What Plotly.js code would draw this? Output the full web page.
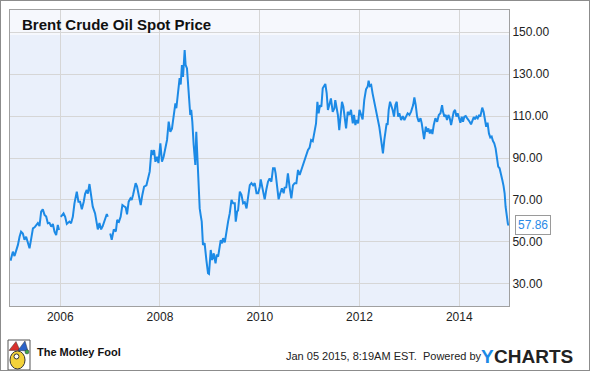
<!DOCTYPE html>
<html>
<head>
<meta charset="utf-8">
<script src="https://cdn.plot.ly/plotly-3.0.1.min.js"></script>
<style>
  html, body { margin: 0; padding: 0; background: #fff; }
  #wrap { position: relative; width: 590px; height: 371px; }
  #chart { width: 590px; height: 371px; }
  #frame { position: absolute; left: 0; top: 0; width: 590px; height: 371px; box-sizing: border-box; border: 1px solid #8c8c8c; pointer-events: none; }
</style>
</head>
<body>
<div id="wrap"><div id="chart"></div><div id="frame"></div></div>
<script>
const chartTitle = 'Brent Crude Oil Spot Price';
const dates = [
'2005-01-02','2005-01-19','2005-01-31','2005-02-13','2005-02-25','2005-03-09','2005-03-20','2005-04-02','2005-04-14','2005-04-26',
'2005-05-09','2005-05-21','2005-06-03','2005-06-15','2005-06-27','2005-07-09','2005-07-21','2005-08-02','2005-08-14','2005-08-26',
'2005-09-08','2005-09-20','2005-10-02','2005-10-14','2005-10-27','2005-11-08','2005-11-20','2005-12-02','2005-12-14','2005-12-23',
'2005-12-29',
'2006-01-05','2006-01-25','2006-02-06','2006-02-18','2006-03-09','2006-03-21','2006-04-03','2006-04-15','2006-05-02','2006-05-14',
'2006-05-26','2006-06-08','2006-06-22','2006-07-02','2006-07-14','2006-07-22','2006-08-03','2006-08-15','2006-08-27','2006-09-13',
'2006-09-21','2006-10-03','2006-10-15','2006-10-27','2006-11-08','2006-11-21','2006-12-08','2006-12-15',
'2006-12-27',
'2007-01-02','2007-01-13','2007-01-28','2007-02-12','2007-02-22','2007-03-07','2007-03-19','2007-04-01','2007-04-13','2007-04-25',
'2007-05-05','2007-05-17','2007-05-30','2007-06-08','2007-06-18','2007-06-30','2007-07-07','2007-07-17','2007-08-01','2007-08-13',
'2007-08-25','2007-09-07','2007-09-24','2007-10-06','2007-10-18','2007-10-31','2007-11-12','2007-11-19','2007-11-29','2007-12-11',
'2007-12-21',
'2008-01-04','2008-01-16','2008-01-28','2008-02-10','2008-02-22','2008-03-05','2008-03-17','2008-03-29','2008-04-10','2008-04-23',
'2008-04-30','2008-05-12','2008-05-24','2008-06-01','2008-06-10','2008-06-18','2008-06-30','2008-07-07','2008-07-17','2008-07-29',
'2008-08-10','2008-08-17','2008-08-25','2008-09-04','2008-09-16','2008-09-23','2008-09-30','2008-10-06','2008-10-18','2008-10-25',
'2008-11-02','2008-11-11','2008-11-23','2008-12-06','2008-12-18','2008-12-25',
'2009-01-07','2009-01-17','2009-01-29','2009-02-11','2009-02-20','2009-03-02','2009-03-14','2009-03-21','2009-03-31','2009-04-08',
'2009-04-20','2009-05-02','2009-05-14','2009-05-26','2009-06-08','2009-06-20','2009-07-02','2009-07-09','2009-07-19','2009-07-26',
'2009-08-08','2009-08-20','2009-09-01','2009-09-13','2009-09-26','2009-10-08','2009-10-20','2009-11-01','2009-11-13','2009-11-25',
'2009-12-08','2009-12-20',
'2010-01-01','2010-01-08','2010-01-17','2010-01-25','2010-02-06','2010-02-18','2010-03-02','2010-03-14','2010-03-27','2010-04-08',
'2010-04-20','2010-04-27','2010-05-10','2010-05-19','2010-05-31','2010-06-12','2010-06-25','2010-07-02','2010-07-14','2010-07-26',
'2010-08-08','2010-08-20','2010-09-01','2010-09-13','2010-09-26','2010-10-08','2010-10-20','2010-11-01','2010-11-13','2010-11-25',
'2010-12-08','2010-12-20',
'2011-01-01','2011-01-12','2011-01-24','2011-02-05','2011-02-17','2011-02-27','2011-03-08','2011-03-18','2011-03-28','2011-04-07',
'2011-04-19','2011-04-26','2011-05-06','2011-05-15','2011-05-25','2011-06-06','2011-06-19','2011-07-01','2011-07-08','2011-07-18',
'2011-07-27','2011-08-06','2011-08-16','2011-08-26','2011-09-05','2011-09-15','2011-09-25','2011-10-07','2011-10-19','2011-10-31',
'2011-11-13','2011-11-22','2011-12-02','2011-12-12','2011-12-22',
'2012-01-01','2012-01-12','2012-01-24','2012-02-05','2012-02-18','2012-03-01','2012-03-08','2012-03-17','2012-03-27','2012-04-06',
'2012-04-18','2012-04-30','2012-05-13','2012-05-25','2012-06-06','2012-06-13','2012-06-21','2012-07-01','2012-07-08','2012-07-18',
'2012-07-25','2012-08-02','2012-08-12','2012-08-21','2012-08-31','2012-09-10','2012-09-20','2012-09-30','2012-10-10','2012-10-19',
'2012-11-01','2012-11-13','2012-11-25','2012-12-07','2012-12-19',
'2013-01-01','2013-01-13','2013-01-28','2013-02-06','2013-02-16','2013-02-26','2013-03-10','2013-03-23','2013-04-01','2013-04-11',
'2013-04-18','2013-05-01','2013-05-10','2013-05-20','2013-05-30','2013-06-09','2013-06-18','2013-06-28','2013-07-10','2013-07-23',
'2013-08-04','2013-08-16','2013-08-28','2013-09-04','2013-09-14','2013-09-24','2013-10-03','2013-10-13','2013-10-23','2013-11-02',
'2013-11-11','2013-11-21','2013-12-01','2013-12-11','2013-12-20','2013-12-30',
'2014-01-09','2014-01-19','2014-01-28','2014-02-07','2014-02-17','2014-02-27','2014-03-08','2014-03-18','2014-03-28','2014-04-07',
'2014-04-17','2014-04-26','2014-05-06','2014-05-16','2014-05-26','2014-06-04','2014-06-11','2014-06-18','2014-06-28','2014-07-08',
'2014-07-17','2014-07-27','2014-08-06','2014-08-16','2014-08-26','2014-09-04','2014-09-14','2014-09-24','2014-10-03','2014-10-13',
'2014-10-23','2014-11-02','2014-11-12','2014-11-21','2014-11-29','2014-12-06','2014-12-16','2014-12-23','2014-12-29'
];
const prices = [
41.1,45.4,43.3,46.0,48.6,52.5,54.9,54.0,51.0,52.5,
50.1,47.0,51.8,56.5,57.0,58.0,59.0,57.6,64.4,65.5,
62.9,62.1,58.9,59.1,57.3,58.6,54.9,53.3,58.1,55.7,
null,
62.0,63.6,62.0,58.6,59.7,58.9,62.0,68.4,74.0,69.2,
69.2,65.6,69.2,72.9,74.8,73.0,77.6,71.6,66.8,63.6,
60.5,56.0,59.0,56.0,57.6,60.5,63.3,62.0,
null,
54.0,51.0,56.0,55.0,60.5,59.7,62.0,67.6,67.0,66.5,
63.2,69.2,70.8,70.0,72.4,75.6,78.0,76.5,71.6,67.6,
72.4,76.4,77.0,80.3,83.5,93.8,91.4,93.8,88.2,90.6,
87.6,
97.0,88.2,90.6,95.4,98.6,107.3,102.5,104.0,110.5,116.0,
113.7,121.6,128.0,125.0,134.3,128.6,141.4,134.3,132.7,121.6,
110.5,113.0,107.3,96.2,86.7,102.5,90.5,78.7,66.0,62.9,
59.7,48.6,49.4,41.4,35.1,34.8,
46.2,41.4,44.6,39.8,44.0,43.0,47.6,50.9,49.4,51.8,
49.8,55.7,59.7,63.6,70.0,68.4,68.4,59.7,64.4,65.0,
74.0,72.5,68.4,69.0,66.0,71.6,77.1,78.0,77.0,78.0,
73.2,73.2,
76.2,79.8,77.0,74.0,70.3,75.0,78.7,80.3,78.7,85.1,
85.1,82.7,74.8,70.3,73.2,75.6,73.2,75.9,76.0,82.7,
75.9,70.8,77.0,78.0,78.0,84.3,81.9,84.3,87.5,89.2,
92.5,93.8,
95.0,98.6,98.0,101.8,106.5,116.8,111.3,115.2,114.4,123.2,
124.8,125.3,120.8,112.9,115.2,118.4,112.0,113.6,117.6,113.6,
110.5,103.3,112.0,116.8,114.4,109.7,104.1,112.0,110.5,112.9,
106.5,110.5,105.7,108.1,106.5,
112.9,110.5,108.4,117.6,122.7,124.0,126.8,124.3,124.8,120.8,
116.8,112.9,109.7,104.9,99.4,96.2,92.2,98.6,102.5,106.5,
105.7,112.9,116.8,115.2,112.9,109.7,115.2,116.8,109.7,111.3,
108.1,110.0,108.1,109.7,111.3,
110.5,112.1,115.2,118.9,115.2,109.7,107.3,109.0,106.5,101.0,
99.0,104.9,102.5,104.1,101.7,103.6,101.4,105.7,108.9,107.3,
110.5,111.3,115.2,112.0,109.7,110.5,108.1,110.5,109.0,105.7,
109.0,112.0,112.9,109.7,111.3,108.4,
106.8,109.7,107.3,109.7,110.0,109.0,108.4,107.3,106.0,108.4,
109.5,108.4,109.7,108.9,110.5,109.7,111.3,114.0,112.0,108.4,
104.9,106.8,101.7,99.8,100.2,98.2,97.0,94.6,90.6,85.9,
85.1,82.7,79.5,76.7,73.2,66.8,60.5,58.6,57.86
];
const lastValue = 57.86;
const footerLeft = 'The Motley Fool';
const footerStamp = 'Jan 05 2015, 8:19AM EST.  Powered by';

const fontFam = '"Liberation Sans", Arial, Helvetica, sans-serif';

const trace = {
  x: dates, y: prices, type: 'scatter', mode: 'lines',
  line: {color: '#1c8ae6', width: 2}, connectgaps: false, hoverinfo: 'skip'
};

const layout = {
  width: 590, height: 371,
  margin: {l: 10, r: 81, t: 10, b: 65, pad: 0},
  paper_bgcolor: '#ffffff', plot_bgcolor: '#eaf0fb',
  showlegend: false,
  font: {family: fontFam, size: 12, color: '#222'},
  xaxis: {
    type: 'date', range: ['2004-12-29', '2014-12-31'],
    tick0: '2006-01-01', dtick: 'M24', tickformat: '%Y',
    showgrid: true, gridcolor: '#d6d6d6', gridwidth: 1,
    showline: true, linecolor: '#a0a0a0', linewidth: 1, mirror: true,
    ticks: '', zeroline: false, tickfont: {size: 12, color: '#222'}
  },
  yaxis: {
    side: 'right', range: [19.5, 160.5], tick0: 30, dtick: 20, tickformat: '.2f',
    showgrid: true, gridcolor: '#d6d6d6', gridwidth: 1,
    showline: true, linecolor: '#a0a0a0', linewidth: 1, mirror: true,
    ticks: '', zeroline: false, tickfont: {size: 12, color: '#222'}
  },
  shapes: [
    {type: 'rect', xref: 'paper', yref: 'paper', x0: 0, x1: 1, y0: 0.9155, y1: 1,
     fillcolor: 'rgba(255,255,255,0.55)', line: {width: 0}, layer: 'between'},
    // Motley Fool jester icon (approximate)
    {type: 'rect', xref: 'paper', yref: 'paper', x0: -0.0040, x1: 0.0401, y0: -0.2162, y1: -0.1149,
     fillcolor: '#ffffff', line: {color: '#555', width: 1}},
    {type: 'circle', xref: 'paper', yref: 'paper', x0: 0.0000, x1: 0.0301, y0: -0.2128, y1: -0.1520,
     fillcolor: '#f3d23a', line: {color: '#333', width: 1}},
    {type: 'path', xref: 'paper', yref: 'paper', path: 'M -0.002 -0.150 L 0.012 -0.120 L 0.020 -0.150 Z',
     fillcolor: '#d9302c', line: {color: '#333', width: 0.5}},
    {type: 'path', xref: 'paper', yref: 'paper', path: 'M 0.016 -0.150 L 0.030 -0.118 L 0.036 -0.152 Z',
     fillcolor: '#2a62c9', line: {color: '#333', width: 0.5}},
    {type: 'circle', xref: 'paper', yref: 'paper', x0: 0.0080, x1: 0.0180, y0: -0.1790, y1: -0.1620,
     fillcolor: '#ffffff', line: {color: '#333', width: 1}},
    {type: 'circle', xref: 'paper', yref: 'paper', x0: 0.0300, x1: 0.0380, y0: -0.1620, y1: -0.1480,
     fillcolor: '#3aa845', line: {color: '#333', width: 0.5}}
  ],
  annotations: [
    {text: '<b>' + chartTitle + '</b>', xref: 'paper', yref: 'paper', x: 0.021, y: 0.9527,
     xanchor: 'left', yanchor: 'middle', showarrow: false, font: {size: 15, color: '#111', family: fontFam}},
    {text: lastValue.toFixed(2), xref: 'paper', yref: 'y', x: 1, y: lastValue, xshift: 6,
     xanchor: 'left', yanchor: 'middle', showarrow: false, bgcolor: '#ffffff',
     bordercolor: '#9a9a9a', borderwidth: 1, borderpad: 2, font: {size: 12, color: '#2a8be6', family: fontFam}},
    {text: '<b>' + footerLeft + '</b>', xref: 'paper', yref: 'paper', x: 0.0501, y: -0.1554,
     xanchor: 'left', yanchor: 'middle', showarrow: false, font: {size: 11, color: '#111', family: fontFam}},
    {text: footerStamp, xref: 'paper', yref: 'paper', x: 0.5491, y: -0.1706,
     xanchor: 'left', yanchor: 'middle', showarrow: false, font: {size: 11, color: '#222', family: fontFam}},
    {text: '<b>Y</b>', xref: 'paper', yref: 'paper', x: 0.9399, y: -0.1706,
     xanchor: 'left', yanchor: 'middle', showarrow: false, font: {size: 19, color: '#1c8ae6', family: fontFam}},
    {text: '<b>CHARTS</b>', xref: 'paper', yref: 'paper', x: 0.9660, y: -0.1706,
     xanchor: 'left', yanchor: 'middle', showarrow: false, font: {size: 19, color: '#222', family: fontFam}}
  ]
};

Plotly.newPlot('chart', [trace], layout, {staticPlot: true, displayModeBar: false});
</script>
</body>
</html>
